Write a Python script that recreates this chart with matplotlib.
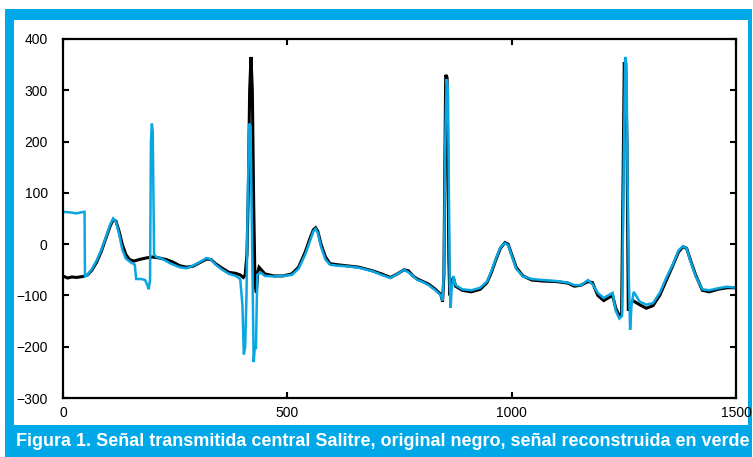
import numpy as np
import matplotlib
matplotlib.use('Agg')
import matplotlib.pyplot as plt
from matplotlib.patches import Rectangle
from matplotlib import font_manager

# original signal (black)
orig_x = [0, 10, 20, 30, 45, 55, 65, 75, 85, 95, 105, 112, 118, 125, 132, 140, 148, 158, 170, 185,
          200, 215, 230, 245, 260, 275, 290, 305, 320, 330, 340, 355, 370, 385, 395, 402, 406, 410, 413, 416,
          419, 422, 425, 428, 431, 434, 437, 442, 450, 470, 490, 510, 525, 540, 550, 558, 563, 568, 575, 585,
          595, 610, 630, 660, 690, 710, 730, 745, 760, 770, 780, 790, 800, 815, 830, 842, 846, 849, 851, 853,
          856, 858, 860, 862, 865, 870, 875, 890, 910, 930, 945, 955, 965, 975, 985, 992, 1000, 1010, 1025, 1045,
          1070, 1100, 1125, 1140, 1155, 1170, 1180, 1192, 1205, 1215, 1225, 1232, 1240, 1245, 1248, 1251, 1254, 1257, 1260, 1263,
          1270, 1285, 1300, 1315, 1330, 1345, 1360, 1372, 1382, 1390, 1398, 1410, 1425, 1440, 1460, 1480, 1500]
orig_y = [-62, -66, -64, -65, -63, -60, -50, -35, -15, 10, 35, 48, 45, 25, 0, -20, -30, -33, -30, -27,
          -25, -27, -30, -35, -42, -45, -43, -36, -29, -30, -38, -47, -55, -57, -60, -65, -60, -20, 100, 300,
          365, 300, 80, -80, -95, -55, -45, -50, -58, -62, -62, -58, -45, -15, 10, 28, 32, 25, 0, -25,
          -38, -40, -42, -45, -52, -58, -65, -58, -50, -52, -62, -68, -72, -78, -88, -98, -112, -60, 150, 330,
          325, 150, -30, -100, -75, -65, -82, -90, -93, -88, -75, -55, -30, -8, 3, 0, -20, -45, -62, -70,
          -72, -73, -76, -82, -80, -73, -75, -100, -110, -105, -100, -125, -140, -135, 100, 355, 340, 200, -130, -120,
          -110, -118, -125, -120, -100, -70, -40, -15, -5, -8, -30, -60, -90, -93, -88, -85, -85]

# reconstructed signal (blue)
rec_x = [0, 15, 30, 40, 48, 49, 55, 65, 75, 85, 95, 105, 112, 118, 125, 132, 140, 150, 160, 163,
         175, 183, 188, 191, 194, 196, 198, 200, 203, 208, 220, 240, 260, 275, 290, 305, 320, 330, 340, 355,
         370, 385, 395, 400, 403, 406, 409, 412, 415, 418, 420, 423, 425, 428, 430, 433, 440, 450, 470, 490,
         510, 525, 540, 550, 558, 563, 568, 575, 585, 595, 610, 630, 660, 690, 710, 730, 745, 760, 770, 780,
         790, 800, 815, 830, 842, 846, 849, 852, 855, 858, 860, 862, 864, 866, 870, 875, 890, 910, 930, 945,
         955, 965, 975, 985, 992, 1000, 1010, 1025, 1045, 1070, 1100, 1125, 1140, 1155, 1170, 1180, 1192, 1205, 1215, 1225,
         1232, 1240, 1246, 1249, 1253, 1256, 1258, 1261, 1264, 1267, 1272, 1277, 1285, 1300, 1315, 1330, 1345, 1360, 1372, 1382,
         1390, 1398, 1410, 1425, 1440, 1460, 1480, 1500]
rec_y = [63, 62, 60, 62, 63, -63, -60, -48, -32, -12, 12, 38, 50, 44, 20, -10, -28, -35, -40, -68,
         -68, -70, -80, -88, -70, 200, 235, 220, -20, -25, -28, -38, -45, -47, -42, -35, -27, -30, -40, -50,
         -58, -62, -68, -120, -215, -200, -100, 100, 235, 230, 100, -100, -230, -195, -205, -60, -55, -62, -63, -62,
         -60, -48, -20, 5, 25, 30, 22, -5, -30, -40, -42, -43, -46, -53, -60, -66, -58, -50, -55, -62,
         -70, -73, -80, -90, -100, -110, -50, 200, 322, 300, 100, -80, -124, -90, -62, -80, -88, -90, -85, -73,
         -52, -28, -6, 2, -2, -22, -48, -63, -68, -70, -72, -75, -80, -80, -70, -78, -95, -105, -100, -95,
         -130, -145, -140, 100, 365, 350, 150, -60, -167, -120, -93, -100, -112, -118, -115, -95, -65, -38, -12, -4,
         -8, -32, -62, -88, -90, -86, -83, -85]

xticks = [0, 500, 1000, 1500]
yticks = [-300, -200, -100, 0, 100, 200, 300, 400]
caption = 'Figura 1. Señal transmitida central Salitre, original negro, señal reconstruida en verde'

frame_blue = '#00A8E8'
W, H = 753, 457

names = {f.name for f in font_manager.fontManager.ttflist}
narrow = 'Liberation Sans Narrow' if 'Liberation Sans Narrow' in names else 'Liberation Sans'

plt.rcParams['font.family'] = ['Liberation Sans', 'DejaVu Sans']

fig = plt.figure(figsize=(W / 100, H / 100), dpi=100)
fig.patch.set_facecolor('white')

# blue frame and white panel, kept behind the axes
fig.patches.append(Rectangle((5 / W, 0), 747 / W, (H - 9) / H, transform=fig.transFigure,
                             facecolor=frame_blue, edgecolor='none', zorder=-2))
fig.patches.append(Rectangle((14 / W, 32 / H), 734 / W, 405 / H, transform=fig.transFigure,
                             facecolor='white', edgecolor='none', zorder=-1))

ax = fig.add_axes([63 / W, 59 / H, 673 / W, 359 / H])
ax.set_facecolor('none')
ax.plot(orig_x, orig_y, color='black', lw=2.2, solid_joinstyle='miter')
ax.plot(rec_x, rec_y, color='#0AA6E2', lw=1.8, solid_joinstyle='miter')

ax.set_xlim(0, 1500)
ax.set_ylim(-300, 400)
ax.set_xticks(xticks)
ax.set_yticks(yticks)
ax.tick_params(direction='in', length=4, width=1.5, top=True, right=True, labelsize=10)
ax.tick_params(axis='y', pad=11)
ax.tick_params(axis='x', pad=6)
for s in ax.spines.values():
    s.set_linewidth(1.6)

txt = fig.text(383 / W, 16 / H, caption, color='white', fontweight='bold', fontsize=16,
               family=[narrow, 'DejaVu Sans'], ha='center', va='center')
fig.canvas.draw()
r = fig.canvas.get_renderer()
w = txt.get_window_extent(r).width
txt.set_fontsize(16 * 730 / w)

fig.savefig('out.png', dpi=100)
